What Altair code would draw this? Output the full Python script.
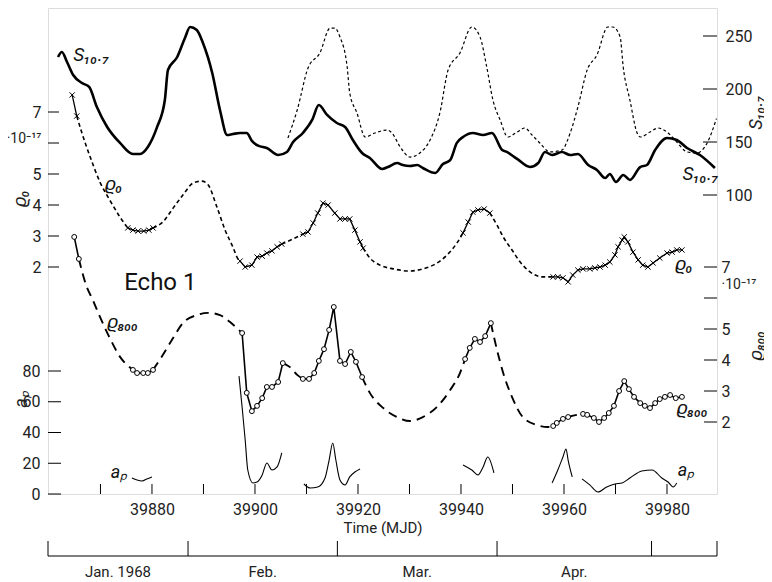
import altair as alt
import pandas as pd

# ---------------- data ----------------
# S10.7 solar flux, observed (solid)
s107_mjd = [39861.75, 39862.5, 39863.5, 39864.7, 39866.4, 39867.8, 39869.3, 39871.3, 39873.8, 39876.3,
            39877.7, 39879.2, 39881.0, 39882.5, 39883.1, 39884.9, 39886.4, 39887.4, 39888.7, 39889.9,
            39891.7, 39893.2, 39894.6, 39895.7, 39897.1, 39898.4, 39899.4, 39900.6, 39902.3, 39904.5,
            39906.2, 39907.4, 39909.3, 39911.1, 39912.4, 39914.0, 39915.9, 39917.5, 39919.0, 39920.8,
            39922.3, 39924.7, 39925.8, 39927.6, 39928.7, 39930.1, 39931.5, 39932.6, 39935.0, 39936.5,
            39937.9, 39939.2, 39940.4, 39942.3, 39944.3, 39946.0, 39948.0, 39948.9, 39950.9, 39953.4,
            39955.0, 39956.3, 39957.7, 39959.6, 39961.2, 39962.7, 39964.7, 39966.4, 39968.0, 39968.9,
            39970.1, 39971.5, 39972.8, 39974.8, 39976.1, 39977.7, 39980.0, 39981.9, 39983.9, 39986.4,
            39989.3]
s107_val = [230.2, 234.9, 225.5, 213.2, 205.7, 201.9, 183.0, 164.2, 149.1, 138.7,
            138.7, 145.3, 164.2, 189.6, 217.9, 230.2, 248.1, 258.5, 255.7, 243.4,
            215.1, 180.2, 156.6, 157.5, 158.5, 158.5, 151.0, 146.5, 144.3, 137.7,
            140.6, 150.0, 158.5, 170.8, 184.9, 175.5, 167.9, 164.2, 151.9, 139.6,
            134.9, 124.5, 126.4, 130.2, 128.3, 127.4, 128.3, 125.5, 120.8, 129.2,
            133.0, 149.1, 154.7, 158.5, 156.6, 158.5, 142.5, 140.6, 134.0, 126.4,
            130.2, 140.6, 137.7, 140.6, 137.7, 138.7, 128.3, 123.6, 116.0, 119.8,
            112.3, 118.9, 114.2, 126.4, 128.3, 142.5, 153.8, 151.9, 144.3, 137.7,
            125.5]

# S10.7 repeated with the 27-day solar rotation (dotted)
s107_rot_mjd = [39906.4, 39908.2, 39910.3, 39912.6, 39914.6, 39915.5, 39916.5, 39917.9, 39918.4, 39919.8,
                39921.4, 39923.3, 39925.6, 39926.6, 39928.2, 39930.1, 39932.0, 39934.0, 39935.9, 39937.5,
                39939.8, 39942.1, 39943.7, 39945.0, 39946.2, 39947.6, 39949.1, 39950.9, 39952.4, 39953.8,
                39955.3, 39957.3, 39959.6, 39961.2, 39962.7, 39964.5, 39966.4, 39968.5, 39969.5, 39970.9,
                39971.5, 39972.8, 39974.2, 39974.8, 39976.7, 39978.3, 39980.0, 39981.9, 39983.9, 39985.8,
                39987.8, 39989.6]
s107_rot_val = [153.8, 180.2, 219.8, 234.0, 257.5, 257.5, 249.1, 220.8, 196.2, 177.4,
                154.7, 158.5, 161.3, 158.5, 145.3, 135.8, 139.6, 151.9, 177.4, 217.9,
                234.0, 258.5, 249.1, 220.8, 189.6, 170.8, 154.7, 159.4, 163.2, 156.6,
                149.1, 140.6, 142.5, 158.5, 183.0, 217.9, 232.1, 258.5, 258.5, 249.1,
                220.8, 189.6, 158.5, 154.7, 159.4, 163.2, 159.4, 150.0, 140.6, 139.6,
                149.1, 172.0]

# rho_0 (x markers on measured parts, dashed interpolation)
rho0_segments = [
    ("measured", [39864.5, 39865.4], [7.55, 6.87]),
    ("interp", [39865.4, 39866.4, 39868.0, 39869.9, 39871.8, 39873.8, 39875.3],
     [6.87, 6.32, 5.55, 4.74, 4.16, 3.61, 3.26]),
    ("measured", [39875.3, 39876.3, 39877.3, 39878.4, 39879.4, 39880.2],
     [3.26, 3.19, 3.16, 3.16, 3.19, 3.26]),
    ("interp", [39880.2, 39882.1, 39884.1, 39886.0, 39888.0, 39889.7, 39890.9, 39892.6, 39894.2, 39895.7,
                39896.7, 39897.1],
     [3.26, 3.45, 3.90, 4.32, 4.71, 4.77, 4.65, 3.94, 3.19, 2.65, 2.26, 2.19]),
    ("measured", [39897.1, 39898.1, 39899.4, 39900.4, 39901.4, 39902.3, 39903.3, 39904.3, 39905.2],
     [2.19, 2.00, 2.06, 2.32, 2.35, 2.45, 2.52, 2.65, 2.74]),
    ("interp", [39905.2, 39907.3, 39909.3], [2.74, 2.90, 3.06]),
    ("measured", [39909.3, 39910.3, 39911.3, 39912.2, 39913.2, 39914.2, 39915.5, 39916.5, 39917.5, 39918.4,
                  39919.4, 39920.4, 39921.0],
     [3.06, 3.13, 3.42, 3.74, 4.06, 4.00, 3.74, 3.55, 3.55, 3.55, 3.19, 2.81, 2.61]),
    ("interp", [39921.0, 39922.3, 39924.3, 39926.8, 39930.1, 39932.6, 39934.6, 39937.3, 39939.2, 39940.4],
     [2.61, 2.29, 2.06, 1.94, 1.87, 1.94, 2.06, 2.39, 2.77, 3.10]),
    ("measured", [39940.4, 39941.4, 39942.3, 39943.3, 39944.5, 39945.6],
     [3.10, 3.45, 3.77, 3.84, 3.87, 3.74]),
    ("interp", [39945.6, 39947.0, 39948.2, 39949.9, 39951.5, 39953.4, 39955.9, 39957.9],
     [3.74, 3.35, 2.97, 2.55, 2.16, 1.84, 1.68, 1.68]),
    ("measured", [39957.9, 39958.8, 39959.8, 39960.8, 39961.7, 39962.7, 39963.7, 39965.0, 39966.0, 39967.0,
                  39968.0, 39968.9, 39969.9, 39970.5, 39971.3, 39971.7, 39972.4, 39973.4, 39974.4, 39975.3,
                  39976.3, 39977.3, 39978.6, 39980.0, 39981.0, 39981.9, 39982.9],
     [1.68, 1.68, 1.65, 1.52, 1.74, 1.90, 1.94, 1.94, 1.97, 2.00,
      2.06, 2.16, 2.39, 2.65, 2.87, 2.97, 2.81, 2.48, 2.23, 2.06,
      2.00, 2.13, 2.29, 2.45, 2.48, 2.55, 2.55]),
]

# rho_800 (open circles on measured parts, long-dash interpolation)
rho800_segments = [
    ("measured", [39864.9, 39865.8], [7.97, 7.26]),
    ("interp", [39865.8, 39867.2, 39868.5, 39869.9, 39871.8, 39873.8, 39876.3],
     [7.26, 6.42, 5.94, 5.39, 4.71, 4.10, 3.68]),
    ("measured", [39876.3, 39877.1, 39878.3, 39879.2, 39880.2], [3.68, 3.58, 3.58, 3.58, 3.68]),
    ("interp", [39880.2, 39882.1, 39884.1, 39886.0, 39888.7, 39890.9, 39893.2, 39895.1, 39897.5],
     [3.68, 4.16, 4.71, 5.19, 5.45, 5.52, 5.45, 5.23, 4.87]),
    ("measured", [39897.5, 39898.4, 39899.4, 39900.4, 39901.4, 39902.3, 39903.3, 39904.5, 39905.4],
     [4.87, 2.94, 2.35, 2.52, 2.77, 3.13, 3.13, 3.29, 3.90]),
    ("interp", [39905.4, 39906.8, 39908.2, 39909.3], [3.90, 3.77, 3.52, 3.39]),
    ("measured", [39909.3, 39910.5, 39911.5, 39912.4, 39913.4, 39914.4, 39915.3, 39916.5, 39917.5, 39918.6,
                  39919.6, 39920.8],
     [3.39, 3.39, 3.58, 3.97, 4.35, 4.97, 5.71, 3.97, 3.87, 4.26, 3.94, 3.45]),
    ("interp", [39920.8, 39922.3, 39924.9, 39927.6, 39930.1, 39932.6, 39935.3, 39937.9, 39939.8, 39940.8],
     [3.45, 2.94, 2.45, 2.16, 2.03, 2.16, 2.48, 3.03, 3.58, 4.03]),
    ("measured", [39940.8, 39941.7, 39942.7, 39943.7, 39944.7, 39945.8], [4.03, 4.39, 4.68, 4.58, 4.77, 5.19]),
    ("interp", [39945.8, 39947.0, 39948.2, 39949.9, 39952.0, 39954.8, 39956.9, 39957.9],
     [5.19, 4.32, 3.58, 2.81, 2.16, 1.90, 1.84, 1.87]),
    ("measured", [39957.9, 39958.6, 39959.8, 39960.8], [1.87, 1.97, 2.10, 2.16]),
    ("interp", [39960.8, 39962.5, 39963.7], [2.16, 2.23, 2.26]),
    ("measured", [39963.7, 39964.5, 39965.8, 39966.8, 39967.8, 39968.7, 39969.7, 39970.7, 39971.7, 39972.6,
                  39973.6, 39974.8, 39975.7, 39976.7, 39977.7, 39978.6, 39979.6, 39980.6, 39981.7, 39982.9],
     [2.26, 2.23, 2.13, 2.00, 2.13, 2.29, 2.52, 3.00, 3.32, 3.06,
      2.81, 2.61, 2.52, 2.45, 2.61, 2.74, 2.81, 2.87, 2.77, 2.81]),
]

# geomagnetic index a_p (thin solid pieces)
ap_segments = [
    ([39876.1, 39877.1, 39878.1, 39879.0, 39880.0], [10.4, 9.1, 8.5, 9.8, 11.1]),
    ([39896.9, 39897.5, 39898.1, 39898.6, 39899.6, 39900.4, 39901.4, 39902.3, 39903.3, 39904.3, 39905.2],
     [76.7, 56.6, 35.1, 15.6, 7.2, 7.8, 12.4, 20.2, 15.6, 17.6, 26.7]),
    ([39909.5, 39910.7, 39912.2, 39913.6, 39914.4, 39915.1, 39915.7, 39916.5, 39917.5, 39918.4, 39919.4, 39920.4],
     [6.5, 3.9, 4.6, 10.4, 22.1, 33.2, 22.1, 9.1, 5.9, 11.1, 14.3, 16.3]),
    ([39940.4, 39942.1, 39943.3, 39944.3, 39945.2, 39946.4], [18.9, 15.6, 12.4, 17.6, 24.1, 13.7]),
    ([39957.7, 39958.8, 39959.8, 39960.4, 39960.8, 39961.6], [7.2, 15.6, 24.1, 29.3, 22.1, 11.1]),
    ([39963.5, 39965.0, 39966.6, 39968.3, 39969.9, 39971.3, 39972.8, 39975.1, 39977.1, 39979.0, 39980.2,
      39981.2, 39981.9],
     [9.8, 5.9, 1.3, 4.6, 6.5, 7.2, 10.4, 15.0, 15.6, 10.4, 7.8, 4.6, 7.2]),
]

# axes / calendar
mjd_labels = [39880, 39900, 39920, 39940, 39960, 39980]
mjd_ticks = [39870, 39880, 39890, 39900, 39910, 39920, 39930, 39940, 39950, 39960, 39970, 39980]
rho_ticks = [2, 3, 4, 5, 6, 7]
ap_ticks = [0, 20, 40, 60, 80]
s_ticks = [100, 150, 200, 250]
month_starts = [39887, 39916, 39947, 39977]
month_names = ["Jan. 1968", "Feb.", "Mar.", "Apr."]
month_label_mjd = [39873.4, 39901.5, 39931.5, 39962.0]

# ---------------- layout / scales ----------------
FONT = "Roboto, 'Liberation Sans', sans-serif"
W, H = 669, 486
TOP, BOTTOM = 8, 494        # page y of plot edges
XDOM = [39859.81, 39989.71]


def lin_domain(v1, p1, v2, p2):
    k = (v2 - v1) / (p2 - p1)
    return [v1 + (BOTTOM - p1) * k, v1 + (TOP - p1) * k]


RHO0_DOM = lin_domain(2, 267, 7, 112)
AP_DOM = lin_domain(0, 494, 80, 371)
S_DOM = lin_domain(100, 195, 250, 36)
RHO800_DOM = lin_domain(2, 422, 7, 267)

X_AXIS = alt.Axis(values=mjd_labels, format="d", ticks=False, domain=False, grid=False,
                  labelFont=FONT, labelFontSize=16, labelPadding=7, labelColor="#222",
                  title="Time (MJD)", titleFont=FONT, titleFontSize=15, titleFontWeight="normal",
                  titlePadding=3, titleColor="#222")


def X(field="mjd"):
    return alt.X(f"{field}:Q", scale=alt.Scale(domain=XDOM, nice=False, zero=False), axis=X_AXIS)


def Y(field, dom, axis=None):
    return alt.Y(f"{field}:Q", scale=alt.Scale(domain=dom, nice=False, zero=False), axis=axis)


def seg_frame(segments, with_kind=True):
    rows = []
    for i, seg in enumerate(segments):
        if with_kind:
            kind, xs, vs = seg
        else:
            kind, (xs, vs) = "line", seg
        for x, v in zip(xs, vs):
            rows.append({"mjd": x, "v": v, "seg": i, "kind": kind})
    return pd.DataFrame(rows)


SPECIAL = "datum.value > 6 && datum.value < 7"


def axis_common(**kw):
    base = dict(ticks=False, domain=False, grid=False, labelFont=FONT,
                labelFontSize={"condition": {"test": SPECIAL, "value": 14}, "value": 16},
                labelColor="#222", titleFont=FONT, titleFontSize=18, titleFontStyle="italic",
                titleFontWeight="normal", titleAngle=270, titleAlign="center",
                titleBaseline="middle", titleColor="#222")
    base.update(kw)
    return alt.Axis(**base)


RHO0_AXIS = axis_common(orient="left", values=[2, 3, 4, 5, 6.16, 7],
                        labelExpr=f"{SPECIAL} ? '·10⁻¹⁷' : datum.label",
                        labelPadding=7, title="ϱ₀", titleX=-28, titleY=190)
AP_AXIS = axis_common(orient="left", values=ap_ticks, labelPadding=8, title="aₚ", titleX=-27, titleY=391)
S_AXIS = axis_common(orient="right", values=s_ticks, labelPadding=8, title="S₁₀.₇", titleX=39, titleY=104)
RHO800_AXIS = axis_common(orient="right", values=[2, 3, 4, 5, 6.42, 7],
                          labelExpr=f"{SPECIAL} ? '·10⁻¹⁷' : datum.label",
                          labelPadding=4, title="ϱ₈₀₀", titleX=39, titleY=337)

# ---------------- layers ----------------
s_df = pd.DataFrame({"mjd": s107_mjd, "v": s107_val})
srot_df = pd.DataFrame({"mjd": s107_rot_mjd, "v": s107_rot_val})
rho0_df = seg_frame(rho0_segments)
rho800_df = seg_frame(rho800_segments)
ap_df = seg_frame(ap_segments, with_kind=False)

s_line = alt.Chart(s_df).mark_line(color="black", strokeWidth=2.6, interpolate="monotone").encode(
    x=X(), y=Y("v", S_DOM, S_AXIS))
srot_line = alt.Chart(srot_df).mark_line(color="black", strokeWidth=1.2, strokeDash=[3, 2.5],
                                         interpolate="monotone").encode(
    x=X(), y=Y("v", S_DOM))

rho0_interp = alt.Chart(rho0_df).transform_filter("datum.kind == 'interp'").mark_line(
    color="black", strokeWidth=1.6, strokeDash=[4, 3], interpolate="monotone").encode(
    x=X(), y=Y("v", RHO0_DOM, RHO0_AXIS), detail="seg:N")
rho0_meas = alt.Chart(rho0_df).transform_filter("datum.kind == 'measured'").mark_line(
    color="black", strokeWidth=1.3).encode(x=X(), y=Y("v", RHO0_DOM), detail="seg:N")
rho0_pts = alt.Chart(rho0_df).transform_filter("datum.kind == 'measured'").mark_point(
    shape="M-1,-1L1,1M-1,1L1,-1", size=28, stroke="black", strokeWidth=1, filled=False, opacity=1).encode(
    x=X(), y=Y("v", RHO0_DOM))

rho800_interp = alt.Chart(rho800_df).transform_filter("datum.kind == 'interp'").mark_line(
    color="black", strokeWidth=1.9, strokeDash=[9, 6], interpolate="monotone").encode(
    x=X(), y=Y("v", RHO800_DOM, RHO800_AXIS), detail="seg:N")
rho800_meas = alt.Chart(rho800_df).transform_filter("datum.kind == 'measured'").mark_line(
    color="black", strokeWidth=1.6).encode(x=X(), y=Y("v", RHO800_DOM), detail="seg:N")
rho800_pts = alt.Chart(rho800_df).transform_filter("datum.kind == 'measured'").mark_point(
    shape="circle", size=24, fill="white", stroke="black", strokeWidth=1, filled=True, opacity=1).encode(
    x=X(), y=Y("v", RHO800_DOM))

ap_line = alt.Chart(ap_df).mark_line(color="black", strokeWidth=1.1, interpolate="monotone").encode(
    x=X(), y=Y("v", AP_DOM, AP_AXIS), detail="seg:N")


# inward ticks
def yticks(vals, dom, x0, x1):
    return alt.Chart(pd.DataFrame({"v": vals})).mark_rule(color="black", strokeWidth=1).encode(
        y=Y("v", dom), x=alt.value(x0), x2=alt.value(x1))


tk_rho0 = yticks(rho_ticks, RHO0_DOM, 0, 11)
tk_ap = yticks(ap_ticks, AP_DOM, 0, 13)
tk_s = yticks(s_ticks, S_DOM, W - 14, W)
tk_rho800 = yticks(rho_ticks, RHO800_DOM, W - 13, W)
tk_x = alt.Chart(pd.DataFrame({"mjd": mjd_ticks})).mark_rule(color="black", strokeWidth=1).encode(
    x=X(), y=alt.value(H), y2=alt.value(H - 10))


# curve labels
def label(mjd, v, dom, text, size=19, style="italic", align="left"):
    df = pd.DataFrame({"mjd": [mjd], "v": [v], "t": [text]})
    return alt.Chart(df).mark_text(font=FONT, fontSize=size, fontStyle=style, align=align,
                                   baseline="alphabetic", color="#111").encode(
        x=X(), y=Y("v", dom), text="t:N")


labels = [
    label(39864.7, 226.0, S_DOM, "S₁₀.₇"),
    label(39983.0, 114.0, S_DOM, "S₁₀.₇"),
    label(39870.9, 4.48, RHO0_DOM, "ϱ₀"),
    label(39981.6, 1.90, RHO0_DOM, "ϱ₀"),
    label(39874.6, 1.26, RHO0_DOM, "Echo 1", size=24, style="normal"),
    label(39871.3, 5.03, RHO800_DOM, "ϱ₈₀₀"),
    label(39981.9, 2.26, RHO800_DOM, "ϱ₈₀₀"),
    label(39872.0, 10.4, AP_DOM, "aₚ", size=18),
    label(39982.1, 11.7, AP_DOM, "aₚ", size=18),
]

# calendar axis below the time axis
cal_line = alt.Chart(pd.DataFrame({"start": [XDOM[0]], "end": [XDOM[1]]})).mark_rule(
    color="black", strokeWidth=1.2).encode(x=X("start"), x2="end:Q", y=alt.value(548))
cal_ticks = alt.Chart(pd.DataFrame({"mjd": [XDOM[0]] + month_starts + [XDOM[1]]})).mark_rule(
    color="black", strokeWidth=1).encode(x=X(), y=alt.value(533), y2=alt.value(548))
cal_text = alt.Chart(pd.DataFrame({"mjd": month_label_mjd, "t": month_names})).mark_text(
    font=FONT, fontSize=15, baseline="middle", align="center", color="#222").encode(
    x=X(), y=alt.value(564), text="t:N")

chart = alt.layer(
    s_line, srot_line, rho0_interp, rho0_meas, rho0_pts, rho800_interp, rho800_meas, rho800_pts,
    ap_line, tk_rho0, tk_ap, tk_s, tk_rho800, tk_x, *labels, cal_line, cal_ticks, cal_text
).resolve_scale(y="independent").properties(
    width=W, height=H,
    padding={"left": 40, "top": 0, "right": 47, "bottom": 86},
    autosize=alt.AutoSizeParams(type="none"),
).configure_view(stroke="black", strokeWidth=1.3).configure(font=FONT)

chart.save("out.html", embed_options={"renderer": "svg", "actions": False})
